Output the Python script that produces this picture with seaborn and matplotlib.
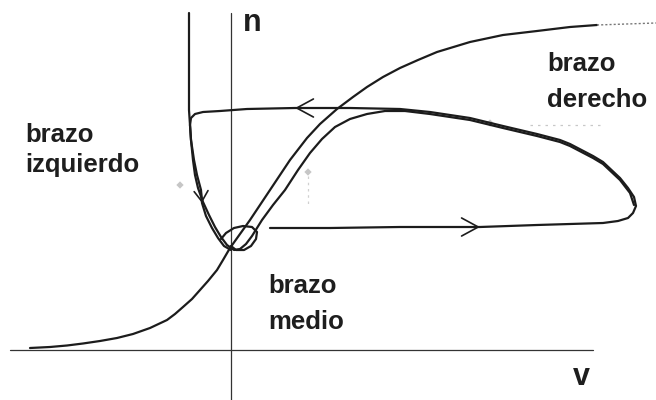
import matplotlib
matplotlib.use("Agg")
import matplotlib.pyplot as plt
import pandas as pd
import seaborn as sns

# n-nullcline (sigmoid), v / n coordinates
sig_v = [-2.01, -1.81, -1.64, -1.48, -1.31, -1.14, -0.98, -0.81, -0.64, -0.56,
         -0.48, -0.39, -0.31, -0.23, -0.14, -0.08, -0.01, 0.19, 0.39, 0.59,
         0.76, 0.89, 1.06, 1.22, 1.36, 1.52, 1.69, 1.87, 2.06, 2.39, 2.72,
         3.06, 3.39, 3.66]
sig_n = [0.02, 0.03, 0.045, 0.065, 0.09, 0.12, 0.16, 0.22, 0.30, 0.36,
         0.43, 0.51, 0.60, 0.69, 0.80, 0.90, 1.02, 1.30, 1.60, 1.90,
         2.12, 2.26, 2.41, 2.53, 2.63, 2.73, 2.82, 2.90, 2.98, 3.08, 3.15,
         3.19, 3.23, 3.25]
sig_tail_v = [3.66, 4.25]
sig_tail_n = [3.25, 3.27]

# v-nullcline (cubic): left, middle and right arms
cub_v = [-0.42, -0.42, -0.42, -0.41, -0.40, -0.38, -0.36, -0.33, -0.28, -0.22,
         -0.16, -0.10, -0.04, 0.03, 0.09, 0.15, 0.21, 0.31, 0.42, 0.54, 0.67,
         0.79, 0.91, 1.04, 1.19, 1.36, 1.54, 1.74, 1.99, 2.39, 2.72, 3.06,
         3.29, 3.39, 3.62, 3.72, 3.89, 3.99, 4.03]
cub_n = [3.37, 2.90, 2.40, 2.25, 2.10, 1.90, 1.75, 1.62, 1.48, 1.35,
         1.23, 1.13, 1.05, 1.00, 1.01, 1.06, 1.14, 1.30, 1.45, 1.60, 1.80,
         1.97, 2.11, 2.23, 2.31, 2.36, 2.39, 2.39, 2.36, 2.30, 2.22, 2.14,
         2.08, 2.04, 1.92, 1.86, 1.70, 1.57, 1.45]

# limit-cycle trajectory
orb_v = [0.39, 0.99, 1.69, 2.39, 2.49, 3.06, 3.39, 3.72, 3.87, 3.97, 4.02,
         4.05, 4.03, 3.97, 3.89, 3.72, 3.62, 3.39, 3.29, 3.06, 2.72, 2.39,
         1.99, 1.69, 1.19, 0.69, 0.64, 0.16, -0.11, -0.28, -0.36, -0.40,
         -0.41, -0.40, -0.37, -0.34, -0.30, -0.29, -0.25, -0.19, -0.13,
         -0.07, 0.00]
orb_n = [1.22, 1.22, 1.23, 1.23, 1.23, 1.25, 1.26, 1.27, 1.29, 1.32, 1.37,
         1.44, 1.53, 1.62, 1.72, 1.88, 1.94, 2.06, 2.10, 2.16, 2.24, 2.32,
         2.38, 2.41, 2.42, 2.42, 2.42, 2.41, 2.39, 2.38, 2.36, 2.32,
         2.25, 2.10, 1.90, 1.75, 1.60, 1.47, 1.34, 1.22, 1.12,
         1.04, 1.00]

# small loop around the fixed point
loop_v = [0.00, 0.05, 0.13, 0.20, 0.25, 0.26, 0.21, 0.12, 0.03, -0.05, -0.10]
loop_n = [1.04, 1.00, 1.00, 1.04, 1.11, 1.18, 1.23, 1.24, 1.22, 1.17, 1.11]

# direction arrows: index of the arrow tip on the trajectory
arrow_tips = [4, 26, 37]

# coordinate axes
axis_h_v = [-2.21, 3.62]
axis_h_n = [0.0, 0.0]
axis_v_v = [0.0, 0.0]
axis_v_n = [-0.5, 3.37]

# faint print specks and dotted traces
speck_v = [-0.51, 0.77, 2.59]
speck_n = [1.65, 1.78, 2.27]
trace_h_v = [2.99, 3.69]
trace_h_n = [2.25, 2.25]
trace_v_v = [0.77, 0.77]
trace_v_n = [1.74, 1.45]

# text labels: (text, v, n)
labels = [
    ("brazo", -2.06, 2.08), ("izquierdo", -2.06, 1.78),
    ("brazo", 0.37, 0.57), ("medio", 0.37, 0.21),
    ("brazo", 3.16, 2.79), ("derecho", 3.16, 2.43),
]
axis_labels = [("n", 0.12, 3.19), ("v", 3.42, -0.35)]

sns.set_style("white")
plt.rcParams["font.family"] = ["Liberation Sans", "DejaVu Sans"]

fig = plt.figure(figsize=(6.56, 4.0), dpi=100)
ax = fig.add_axes([0, 0, 1, 1])

ink = "#1c1c1c"
lw_curve = 1.6


def draw(xs, ys, **kw):
    df = pd.DataFrame({"v": xs, "n": ys})
    sns.lineplot(data=df, x="v", y="n", sort=False, estimator=None, ax=ax, **kw)


draw(axis_h_v, axis_h_n, color="#333333", linewidth=0.9)
draw(axis_v_v, axis_v_n, color="#333333", linewidth=0.9)
draw(trace_h_v, trace_h_n, color="#c8c8c8", linewidth=0.9, linestyle=(0, (2, 4)))
draw(trace_v_v, trace_v_n, color="#d0d0d0", linewidth=0.9, linestyle=(0, (2, 3)))
sns.scatterplot(x=speck_v, y=speck_n, ax=ax, marker="D", s=14, color="#b8b8b8",
                edgecolor="none", alpha=0.8)
draw(sig_v, sig_n, color=ink, linewidth=lw_curve, solid_joinstyle="round")
draw(sig_tail_v, sig_tail_n, color="#777777", linewidth=1.0, linestyle=(0, (1.5, 1.5)))
draw(cub_v, cub_n, color=ink, linewidth=lw_curve, solid_joinstyle="round")
draw(orb_v, orb_n, color=ink, linewidth=lw_curve, solid_joinstyle="round")
draw(loop_v, loop_n, color=ink, linewidth=lw_curve, solid_joinstyle="round")

for k, i in enumerate(arrow_tips):
    big = k < 2
    style = ("->, head_length=1.2, head_width=0.65" if big
             else "->, head_length=0.75, head_width=0.5")
    ax.annotate("", xy=(orb_v[i], orb_n[i]), xytext=(orb_v[i - 1], orb_n[i - 1]),
                arrowprops=dict(arrowstyle=style, color=ink, lw=1.2,
                                shrinkA=0, shrinkB=0))

for txt, x, y in labels:
    ax.text(x, y, txt, fontsize=18.5, fontweight="bold", color="#1e1e1e",
            ha="left", va="baseline")
for txt, x, y in axis_labels:
    ax.text(x, y, txt, fontsize=22, fontweight="bold", color="#1e1e1e",
            ha="left", va="baseline")

ax.set_xlim(-2.31, 4.25)
ax.set_ylim(-0.5, 3.5)
ax.set_axis_off()
fig.savefig("out.png", dpi=100, facecolor="white")
